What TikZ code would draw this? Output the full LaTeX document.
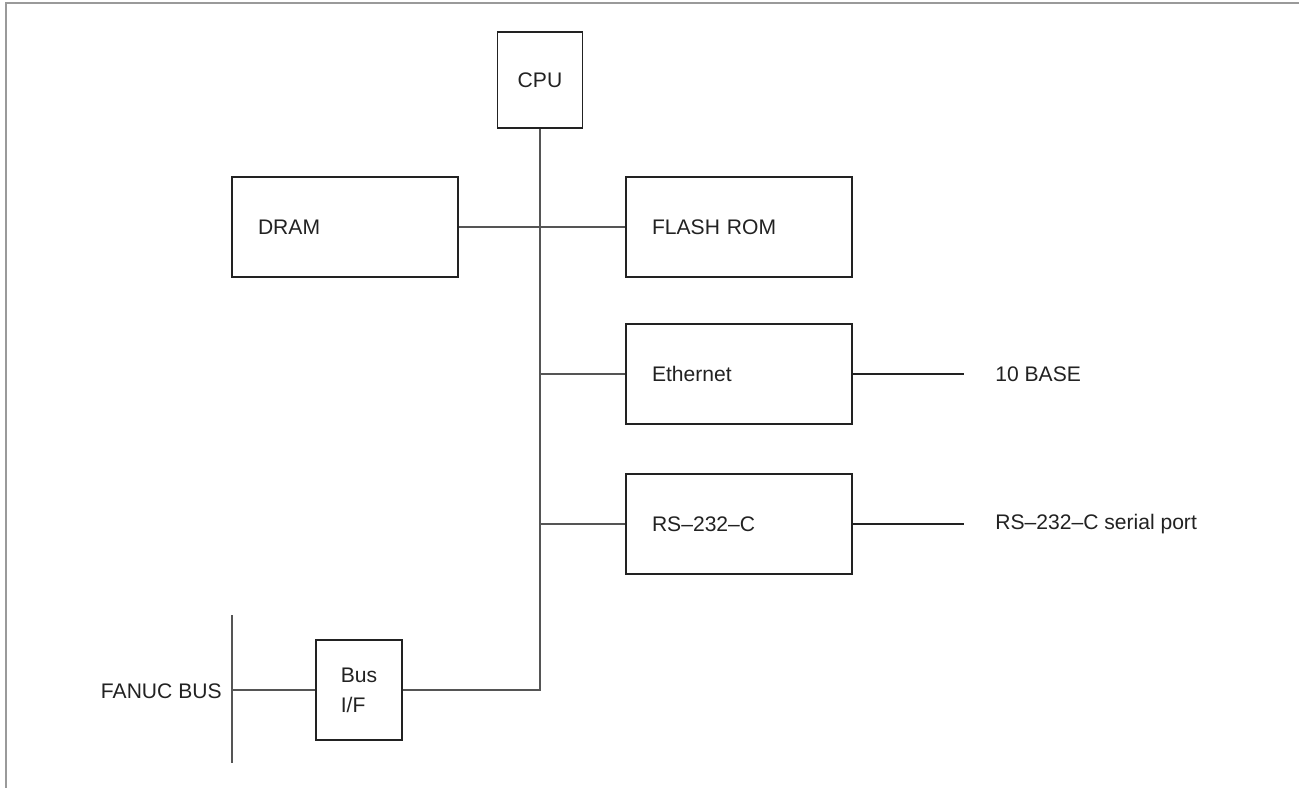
\documentclass[tikz,border=0pt]{standalone}
\usepackage{fontspec}
\setmainfont{Liberation Sans}
\usetikzlibrary{positioning}
\definecolor{ink}{HTML}{222222}
\definecolor{wirec}{HTML}{555555}
\definecolor{framec}{HTML}{9A9A9A}

\begin{document}
\begin{tikzpicture}[
    x=0.02cm, y=-0.02cm,
    box/.style={draw=ink, line width=1pt, text=ink, font=\fontsize{12}{17}\selectfont},
    widebox/.style={box, minimum height=2cm, inner xsep=0.52cm, text width=3.48cm, align=left},
    wire/.style={draw=wirec, line width=0.6pt},
    port/.style={draw=ink, line width=1pt},
    lbl/.style={text=ink, inner sep=0pt, font=\fontsize{12}{14}\selectfont}
]
\useasboundingbox (0,0) rectangle (1299,788);

% Frame
\draw[framec, line width=1.4pt] (6,788) -- (6,3) -- (1299,3);

% Processor and memory nodes
\node[box, minimum width=1.7cm, minimum height=1.92cm] (cpu) at (540,80) {CPU};
\node[widebox] (dram) at (345,227) {DRAM};
\node[widebox] (flash) at (739,227) {FLASH ROM};

% Interface nodes
\node[widebox] (eth) at (739,374) {Ethernet};
\node[widebox] (rs) at (739,524) {RS--232--C};
\node[box, minimum width=1.72cm, minimum height=2cm, align=left] (busif) at (359,690) {Bus\\I/F};

% External labels
\node[lbl, anchor=west] (tenbase) at (995,374) {10 BASE};
\node[lbl, anchor=west] (serial) at (995,524) {RS--232--C serial port};
\node[lbl, anchor=east] (fanuc) at (222,691) {FANUC BUS};
\coordinate (bustop) at (232,615);
\coordinate (busbot) at (232,763);

% Internal bus
\draw[wire] (cpu.south) |- (busif.east);
\draw[wire] (dram.east) -- (flash.west);
\draw[wire] (cpu.south |- eth.west) -- (eth.west);
\draw[wire] (cpu.south |- rs.west) -- (rs.west);

% External lines
\draw[port] (eth.east) -- ([xshift=-0.62cm]tenbase.west);
\draw[port] (rs.east) -- ([xshift=-0.62cm]serial.west);
\draw[wire, line width=0.9pt] (bustop) -- (busbot);
\draw[wire] (busif.west) -- (busif.west -| bustop);

\end{tikzpicture}
\end{document}
